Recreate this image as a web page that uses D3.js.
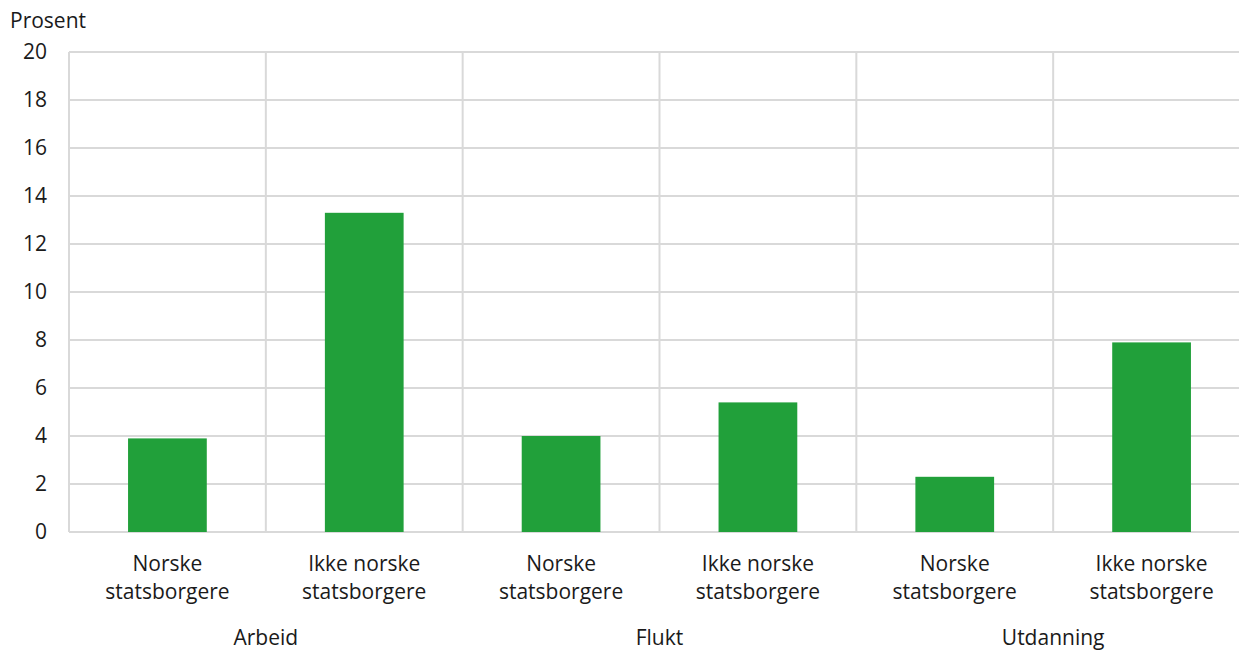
<!DOCTYPE html>
<html><head><meta charset="utf-8">
<script src="https://cdn.jsdelivr.net/npm/d3@7"></script>
<style>body{margin:0;background:#fff}text{font-family:"Open Sans",sans-serif;fill:#1a1a1a}</style>
</head><body><svg id="c" width="1239" height="650"></svg>
<script>
const groups = ["Arbeid", "Flukt", "Utdanning"];
const subcats = ["Norske statsborgere", "Ikke norske statsborgere"];
const values = [3.9, 13.3, 4.0, 5.4, 2.3, 7.9];
const yTicks = [0, 2, 4, 6, 8, 10, 12, 14, 16, 18, 20];

(function(){
const svg = d3.select("#c");
const mLeft = 69, mRight = 1250, mTop = 52, mBottom = 532;
const fs = 21;
const cats = [];
groups.forEach((g, gi) => subcats.forEach((s, si) => cats.push({g, s, v: values[gi*2+si], key: g + "|" + s})));
const x = d3.scaleBand().domain(cats.map(d => d.key)).range([mLeft, mRight]).paddingInner(0).paddingOuter(0);
const y = d3.scaleLinear().domain([0, 20]).range([mBottom, mTop]);
const grid = "#d9d9d9";

svg.append("g").selectAll("line").data(yTicks).join("line")
  .attr("x1", mLeft).attr("x2", mRight).attr("y1", d => y(d)).attr("y2", d => y(d))
  .attr("stroke", grid).attr("stroke-width", 2);
svg.append("g").selectAll("line").data(cats).join("line")
  .attr("x1", d => x(d.key)).attr("x2", d => x(d.key)).attr("y1", mTop).attr("y2", mBottom)
  .attr("stroke", grid).attr("stroke-width", 2);

const bw = x.bandwidth() * 0.4;
svg.append("g").selectAll("rect").data(cats).join("rect")
  .attr("x", d => x(d.key) + x.bandwidth()/2 - bw/2).attr("width", bw)
  .attr("y", d => y(d.v)).attr("height", d => y(0) - y(d.v))
  .attr("fill", "#21a03a");

svg.append("g").selectAll("text").data(yTicks).join("text")
  .attr("x", 47).attr("y", d => y(d)).attr("dy", "0.35em").attr("text-anchor", "end")
  .attr("font-size", fs).text(d => d);

svg.append("text").attr("x", 10).attr("y", 28).attr("font-size", fs).text("Prosent");

const lab = svg.append("g").selectAll("text").data(cats).join("text")
  .attr("text-anchor", "middle").attr("font-size", fs);
lab.each(function(d) {
  const t = d3.select(this);
  const cx = x(d.key) + x.bandwidth()/2;
  const words = d.s.split(" ");
  const l1 = words.slice(0, -1).join(" "), l2 = words[words.length-1];
  t.append("tspan").attr("x", cx).attr("y", 571).text(l1);
  t.append("tspan").attr("x", cx).attr("y", 599).text(l2);
});

svg.append("g").selectAll("text").data(groups).join("text")
  .attr("x", (g, i) => x(g + "|" + subcats[1]))
  .attr("y", 645).attr("text-anchor", "middle").attr("font-size", fs).text(d => d);
})();
</script></body></html>
